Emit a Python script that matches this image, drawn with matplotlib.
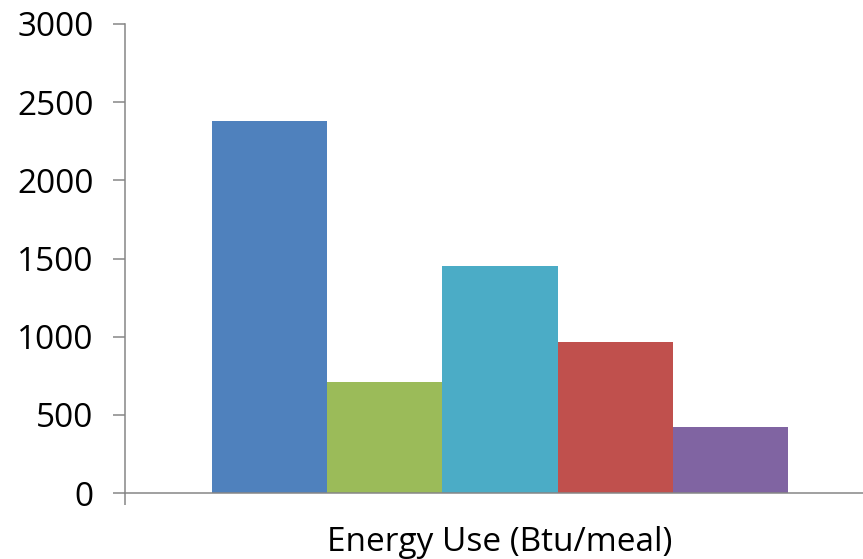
import matplotlib.pyplot as plt

# energy use per meal, one bar per cooking method
values = [2382, 710, 1455, 969, 422]
colors = ["#4F81BD", "#9BBB59", "#4BACC6", "#C0504D", "#8064A2"]
category = "Energy Use (Btu/meal)"
yticks = [0, 500, 1000, 1500, 2000, 2500, 3000]

plt.rcParams["font.family"] = ["Open Sans", "DejaVu Sans"]

fig = plt.figure(figsize=(8.63, 5.59), dpi=100)
# the plot area runs a little past the right edge of the figure
ax = fig.add_axes([125 / 863, 1 - 493 / 559, 750 / 863, (493 - 24) / 559])

width = 0.1536
n = len(values)
for i, (v, c) in enumerate(zip(values, colors)):
    x = (i - (n - 1) / 2) * width
    ax.bar(x, v, width=width, color=c, linewidth=0)

ax.set_xlim(-0.5, 0.5)
ax.set_ylim(0, 3000)
ax.set_yticks(yticks)

axis_gray = "#868686"
for side in ["top", "right"]:
    ax.spines[side].set_visible(False)
for side in ["left", "bottom"]:
    ax.spines[side].set_color(axis_gray)
    ax.spines[side].set_linewidth(1.1)

ax.tick_params(axis="y", direction="out", length=8.6, width=1.1, color=axis_gray,
               labelsize=24, pad=14, labelcolor="black")
ax.set_xticks([0])
ax.set_xticklabels([category])
ax.tick_params(axis="x", which="major", length=0, labelsize=24, pad=24)
ax.set_xticks([-0.5, 0.5], minor=True)
ax.tick_params(axis="x", which="minor", direction="out", length=8.6, width=1.1,
               color=axis_gray)

fig.savefig("out.png", dpi=100)
